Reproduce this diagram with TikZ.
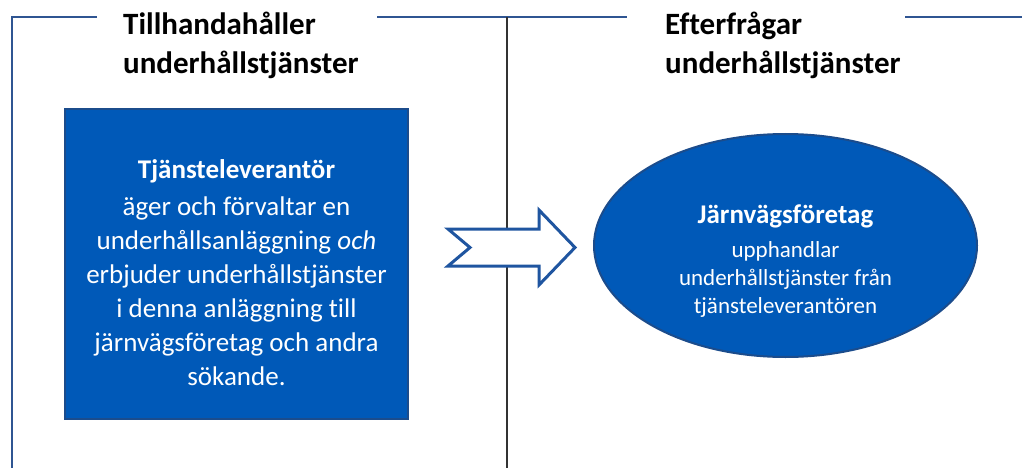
\documentclass[tikz,border=0pt]{standalone}
\usepackage{fontspec}
\setmainfont{Carlito}[Ligatures=NoCommon]
\usetikzlibrary{shapes.geometric}
\definecolor{frameblue}{HTML}{2F5592}
\definecolor{boxfill}{HTML}{0059B8}
\definecolor{boxedge}{HTML}{1B4C8C}
\definecolor{arrowblue}{HTML}{1F55A0}
\begin{document}
\begin{tikzpicture}[x=1pt,y=-1pt,
  frame/.style={draw=frameblue,line width=2.8pt},
  divider/.style={draw=black!80,line width=1.3pt},
  header/.style={anchor=north west,inner sep=0pt,align=left,
    font=\fontsize{31}{38.5}\selectfont\bfseries},
  bluebox/.style={draw=boxedge,line width=2.4pt,fill=boxfill,
    minimum width=343pt,minimum height=310pt,inner sep=0pt},
  blueoval/.style={ellipse,draw=boxedge,line width=2pt,fill=boxfill,
    minimum width=383pt,minimum height=223pt,inner sep=0pt},
  whitetext/.style={text=white,align=center,inner sep=0pt},
  blockarrow/.style={draw=arrowblue,line width=3pt,fill=white,line join=miter}
]
\useasboundingbox (0,0) rectangle (1022,468);

% section frame lines
\draw[frame] (97,17) -- (12,17) -- (12,470);
\draw[frame] (377,17) -- (627,17);
\draw[frame] (905,17) -- (1024,17);
\draw[divider] (507,17) -- (507,470);

% section headings
\node[header] (provides) at (123,12) {Tillhandahåller\\underhållstjänster};
\node[header] (requests) at (665,12) {Efterfrågar\\underhållstjänster};

% service supplier box
\node[bluebox] (supplier) at (236.5,264) {};
\node[whitetext,font=\fontsize{27}{34}\selectfont] (suppliertext) at (236.5,273)
  {{\bfseries Tjänsteleverantör}\\[3pt]
   äger och förvaltar en\\
   underhållsanläggning \textit{och}\\
   erbjuder underhållstjänster\\
   i denna anläggning till\\
   järnvägsföretag och andra\\
   sökande.};

% railway undertaking oval
\node[blueoval] (railway) at (785.5,245.5) {};
\node[whitetext,font=\fontsize{23}{28}\selectfont] (railwaytext) at (785.5,261)
  {{\fontsize{27}{30}\selectfont\bfseries Järnvägsföretag}\\[6pt]
   upphandlar\\
   underhållstjänster från\\
   tjänsteleverantören};

% notched block arrow
\draw[blockarrow] (448,229) -- (539,229) -- (539,210) -- (575,247.5)
  -- (539,285) -- (539,266) -- (448,266) -- (470,247.5) -- cycle;
\end{tikzpicture}
\end{document}
